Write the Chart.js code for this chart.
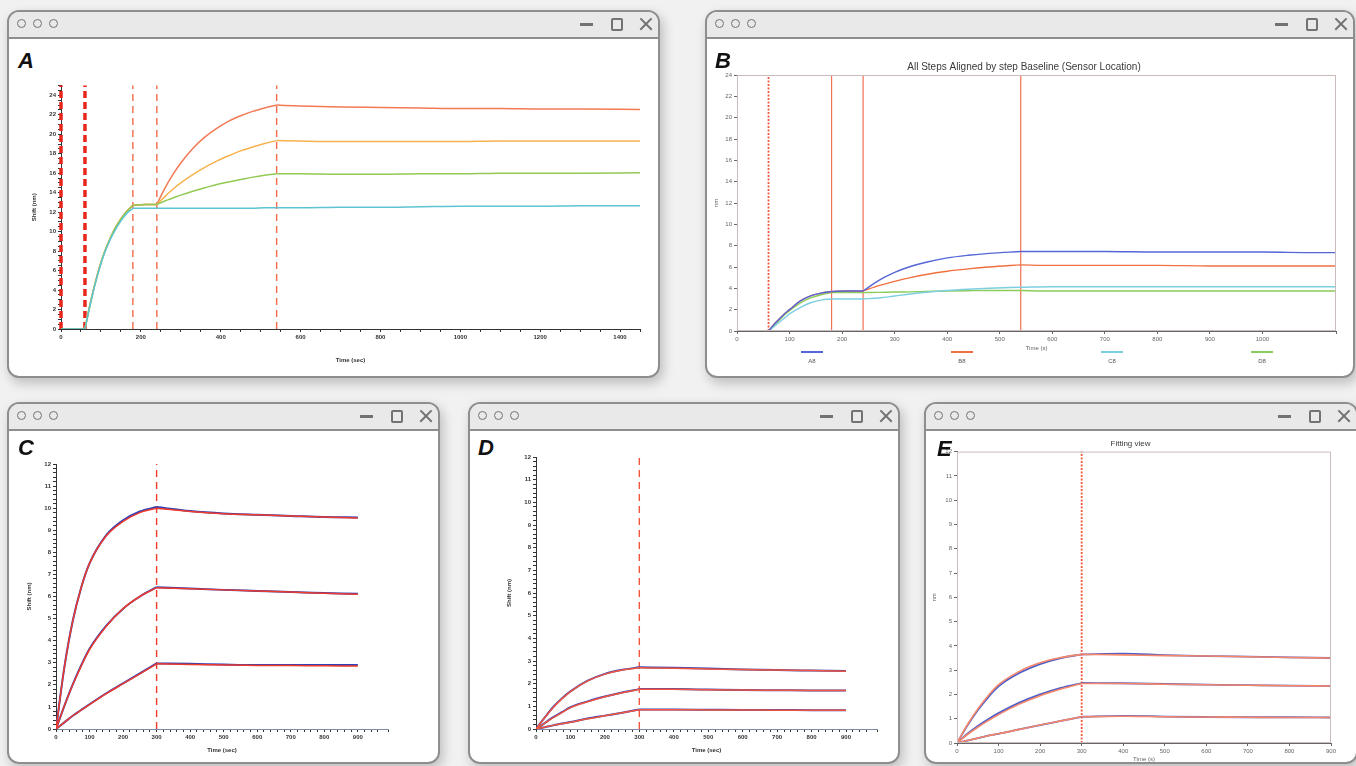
<!DOCTYPE html>
<html>
<head>
<meta charset="utf-8">
<script src="https://cdn.jsdelivr.net/npm/chart.js@4.4.1/dist/chart.umd.min.js"></script>
<style>
body { margin:0; width:1356px; height:766px; overflow:hidden; background:#f1f1f1; position:relative; font-family:"Liberation Sans", Arial, sans-serif; }
.win { position:absolute; background:#fff; border:2.5px solid #8e8e8e; border-radius:12px; box-shadow:3px 5px 12px rgba(0,0,0,0.22); overflow:hidden; box-sizing:border-box; }
.bar { position:absolute; left:0; right:0; top:0; height:25px; background:#e9e9ea; border-bottom:2.5px solid #8e8e8e; }
.dot { position:absolute; top:7px; width:7px; height:7px; border:1.8px solid #727272; border-radius:50%; }
.min { position:absolute; top:11.3px; right:65px; width:13px; height:2.6px; background:#727272; }
.max { position:absolute; top:5.5px; right:35.5px; width:8px; height:9px; border:2.2px solid #727272; border-radius:2px; }
.xl { position:absolute; top:11.3px; right:4.5px; width:16px; height:2.2px; background:#727272; }
.letter { position:absolute; font:italic bold 22px/22px "Liberation Sans", Arial, sans-serif; color:#111; z-index:3; }
canvas { position:absolute; z-index:2; }
#legendB { position:absolute; left:737px; top:351px; width:600px; display:flex; justify-content:space-around; z-index:2; }
#legendB div { display:flex; flex-direction:column; align-items:center; width:60px; font-size:6px; color:#555; }
#legendB span.sw { width:22px; height:1.5px; margin-bottom:5px; }
</style>
</head>
<body>
<canvas id="chartA" width="620" height="285" style="left:30px;top:80px"></canvas>
<canvas id="chartB" width="636" height="294" style="left:712px;top:59px"></canvas>
<canvas id="chartC" width="380" height="300" style="left:25px;top:455px"></canvas>
<canvas id="chartD" width="385" height="307" style="left:505px;top:448px"></canvas>
<canvas id="chartE" width="415" height="327" style="left:930px;top:437px"></canvas>
<div id="legendB"></div>
<script>
// ---------- panel A: four sensors, time in sec, shift in nm ----------
let timeA = [0, 60, 70, 80, 90, 100, 110, 120, 135, 150, 165, 180, 210, 240, 260, 280, 300, 330, 360, 390, 420, 450, 480, 510, 540, 600, 700, 800, 900, 1000, 1100, 1200, 1300, 1450];
let redA = [0, 0, 2.0, 3.8, 5.4, 6.8, 8.0, 9.0, 10.3, 11.3, 12.1, 12.7, 12.8, 12.8, 14.45, 15.85, 17.05, 18.55, 19.7, 20.6, 21.35, 21.9, 22.35, 22.7, 23.0, 22.9, 22.8, 22.75, 22.7, 22.65, 22.65, 22.6, 22.6, 22.55];
let orangeA = [0, 0, 2.0, 3.8, 5.4, 6.8, 8.0, 9.0, 10.3, 11.3, 12.1, 12.7, 12.8, 12.8, 13.6, 14.35, 15.0, 15.85, 16.6, 17.25, 17.8, 18.3, 18.7, 19.05, 19.35, 19.3, 19.25, 19.25, 19.25, 19.25, 19.3, 19.3, 19.3, 19.3];
let greenA = [0, 0, 2.0, 3.8, 5.4, 6.8, 8.0, 9.0, 10.3, 11.3, 12.1, 12.7, 12.8, 12.8, 13.15, 13.45, 13.75, 14.15, 14.5, 14.85, 15.1, 15.35, 15.6, 15.8, 15.95, 15.95, 15.9, 15.9, 15.95, 15.95, 16.0, 16.0, 16.0, 16.05];
let cyanA = [0, 0, 1.9, 3.7, 5.3, 6.7, 7.9, 8.9, 10.1, 11.1, 11.9, 12.4, 12.4, 12.4, 12.4, 12.4, 12.4, 12.4, 12.4, 12.4, 12.4, 12.4, 12.4, 12.45, 12.45, 12.45, 12.5, 12.5, 12.55, 12.6, 12.6, 12.6, 12.65, 12.65];
let stepsA = [0, 60, 180, 240, 540];
let endA = 1450;

// ---------- panel B: aligned steps ----------
let timeB = [0, 60, 70, 80, 90, 100, 120, 140, 160, 180, 210, 240, 270, 300, 330, 360, 400, 440, 480, 540, 600, 700, 800, 900, 1000, 1100, 1140];
let namesB = ["A8", "B8", "C8", "D8"];
let a8 = [0, 0, 0.6, 1.1, 1.6, 2.0, 2.8, 3.3, 3.55, 3.7, 3.75, 3.75, 4.75, 5.5, 6.05, 6.45, 6.85, 7.1, 7.28, 7.45, 7.45, 7.45, 7.4, 7.4, 7.4, 7.35, 7.35];
let b8 = [0, 0, 0.6, 1.1, 1.6, 2.0, 2.8, 3.3, 3.55, 3.7, 3.75, 3.75, 4.25, 4.65, 5.0, 5.3, 5.6, 5.82, 6.0, 6.2, 6.15, 6.15, 6.15, 6.1, 6.1, 6.1, 6.1];
let c8 = [0, 0, 0.4, 0.8, 1.2, 1.6, 2.2, 2.65, 2.9, 3.0, 3.0, 3.0, 3.1, 3.28, 3.47, 3.63, 3.8, 3.92, 4.01, 4.1, 4.15, 4.15, 4.15, 4.15, 4.15, 4.15, 4.15];
let d8 = [0, 0, 0.5, 1.0, 1.5, 1.9, 2.6, 3.1, 3.4, 3.6, 3.6, 3.6, 3.62, 3.65, 3.67, 3.7, 3.75, 3.78, 3.8, 3.8, 3.75, 3.75, 3.75, 3.75, 3.75, 3.75, 3.75];
let stepsB = [60, 180, 240, 540];
let endB = 1140;

// ---------- panels C, D, E: data (blue) and fit (red) ----------
let timeFit = [0, 25, 50, 75, 100, 150, 200, 250, 300, 400, 500, 600, 700, 800, 900];
let stepFit = 300;

let cFitHigh = [0, 2.8, 4.9, 6.4, 7.5, 8.75, 9.4, 9.8, 10.0, 9.85, 9.75, 9.7, 9.65, 9.6, 9.55];
let cDataHigh = [0, 2.8, 4.9, 6.4, 7.5, 8.78, 9.45, 9.85, 10.05, 9.87, 9.76, 9.7, 9.65, 9.6, 9.58];
let cFitMid = [0, 1.05, 2.0, 2.85, 3.6, 4.65, 5.45, 6.0, 6.4, 6.35, 6.3, 6.25, 6.2, 6.15, 6.1];
let cDataMid = [0, 1.05, 2.02, 2.88, 3.63, 4.68, 5.45, 6.0, 6.42, 6.36, 6.3, 6.25, 6.2, 6.16, 6.12];
let cFitLow = [0, 0.3, 0.6, 0.85, 1.1, 1.6, 2.05, 2.5, 2.95, 2.92, 2.9, 2.88, 2.87, 2.86, 2.85];
let cDataLow = [0, 0.3, 0.6, 0.86, 1.12, 1.62, 2.07, 2.52, 2.97, 2.95, 2.92, 2.9, 2.9, 2.9, 2.9];

let dFitHigh = [0, 0.5, 0.95, 1.33, 1.65, 2.12, 2.42, 2.6, 2.7, 2.68, 2.65, 2.62, 2.6, 2.58, 2.55];
let dDataHigh = [0, 0.5, 0.97, 1.35, 1.66, 2.13, 2.43, 2.61, 2.72, 2.7, 2.67, 2.63, 2.6, 2.58, 2.56];
let dFitMid = [0, 0.25, 0.5, 0.72, 0.94, 1.2, 1.42, 1.6, 1.75, 1.75, 1.73, 1.72, 1.71, 1.7, 1.7];
let dDataMid = [0, 0.26, 0.52, 0.74, 0.96, 1.22, 1.43, 1.61, 1.76, 1.76, 1.74, 1.72, 1.71, 1.7, 1.7];
let dFitLow = [0, 0.08, 0.16, 0.23, 0.3, 0.45, 0.58, 0.72, 0.85, 0.85, 0.84, 0.84, 0.83, 0.83, 0.83];
let dDataLow = [0, 0.08, 0.16, 0.24, 0.31, 0.46, 0.59, 0.72, 0.86, 0.86, 0.85, 0.84, 0.84, 0.83, 0.83];

let eFitHigh = [0, 0.75, 1.4, 1.95, 2.4, 2.95, 3.3, 3.52, 3.65, 3.63, 3.6, 3.58, 3.55, 3.52, 3.5];
let eDataHigh = [0, 0.72, 1.35, 1.88, 2.33, 2.88, 3.25, 3.5, 3.65, 3.68, 3.62, 3.58, 3.56, 3.53, 3.5];
let eFitMid = [0, 0.35, 0.65, 0.92, 1.17, 1.6, 1.95, 2.22, 2.45, 2.45, 2.42, 2.4, 2.38, 2.36, 2.35];
let eDataMid = [0, 0.38, 0.7, 0.98, 1.23, 1.66, 2.0, 2.27, 2.47, 2.46, 2.43, 2.4, 2.38, 2.36, 2.35];
let eFitLow = [0, 0.1, 0.2, 0.3, 0.38, 0.56, 0.74, 0.91, 1.08, 1.1, 1.08, 1.07, 1.06, 1.05, 1.05];
let eDataLow = [0, 0.1, 0.2, 0.3, 0.38, 0.56, 0.74, 0.91, 1.08, 1.12, 1.09, 1.07, 1.06, 1.06, 1.05];

Chart.defaults.font.family = '"Liberation Sans", Arial, sans-serif';
Chart.defaults.animation = false;

// window frames

function makeWindow(left, top, width, height, letter, lx, ly) {
    let w = document.createElement("div");
    w.className = "win";
    w.style.cssText = "left:" + left + "px;top:" + top + "px;width:" + width + "px;height:" + height + "px";
    w.innerHTML = '<div class="bar">' +
        '<div class="dot" style="left:7.5px"></div><div class="dot" style="left:23.5px"></div><div class="dot" style="left:39.5px"></div>' +
        '<div class="min"></div><div class="max"></div>' +
        '<div class="xl" style="transform:rotate(45deg)"></div><div class="xl" style="transform:rotate(-45deg)"></div></div>';
    document.body.insertBefore(w, document.body.firstChild);
    let l = document.createElement("div");
    l.className = "letter";
    l.innerText = letter;
    l.style.left = lx + "px";
    l.style.top = ly + "px";
    document.body.appendChild(l);
}

makeWindow(7, 10, 653, 368, "A", 18, 50);
makeWindow(705, 10, 650, 368, "B", 715, 50);
makeWindow(7, 402, 433, 362, "C", 18, 437);
makeWindow(468, 402, 432, 362, "D", 478, 437);
makeWindow(924, 402, 434, 362, "E", 937, 438);

// helpers

function points(xs, ys) {
    return xs.map((x, i) => ({x: x, y: ys[i]}));
}

// one dataset per step, so the kinks between steps stay sharp
function phases(label, xs, ys, bounds, color, width) {
    let all = points(xs, ys);
    let out = [];
    for (let p = 0; p < bounds.length - 1; p++) {
        out.push({
            label: label,
            data: all.filter(pt => pt.x >= bounds[p] && pt.x <= bounds[p + 1]),
            borderColor: color,
            borderWidth: width || 1.5,
            pointRadius: 0,
            cubicInterpolationMode: "monotone",
            fill: false
        });
    }
    return out;
}

function vline(x, top, color, width, dash) {
    return {
        label: "step",
        data: [{x: x, y: 0}, {x: x, y: top}],
        borderColor: color,
        borderWidth: width,
        borderDash: dash,
        pointRadius: 0,
        clip: false,
        fill: false
    };
}

function axis(o) {
    return {
        type: "linear",
        min: o.min,
        max: o.max,
        afterFit: o.fit,
        ticks: {
            stepSize: o.step,
            autoSkip: false,
            maxRotation: 0,
            padding: 2,
            color: o.color,
            font: {size: o.size, weight: o.weight || "bold"},
            callback: v => {
                let r = v / o.every;
                return Math.abs(r - Math.round(r)) < 1e-6 ? String(Math.round(v)) : "";
            }
        },
        grid: {drawOnChartArea: false, tickLength: o.tick || 3, color: o.color},
        border: {color: o.axisColor || o.color, width: 1},
        title: {display: true, text: o.title, color: o.color, font: {size: o.size, weight: o.weight || "bold"}, padding: 1}
    };
}

let framePlugin = {
    id: "frame",
    afterDraw(chart, args, opts) {
        let a = chart.chartArea;
        let ctx = chart.ctx;
        ctx.save();
        ctx.strokeStyle = opts.color;
        ctx.lineWidth = 1;
        ctx.strokeRect(a.left + 0.5, a.top + 0.5, a.width - 1, a.height - 1);
        ctx.restore();
    }
};

function baseOptions(x, y, padding) {
    return {
        responsive: false,
        devicePixelRatio: 1,
        layout: {padding: padding},
        plugins: {legend: {display: false}, tooltip: {enabled: false}},
        scales: {x: x, y: y}
    };
}

// panel A

let boundsA = stepsA.concat([endA]);
let datasetsA = [].concat(
    phases("cyan", timeA, cyanA, boundsA, "#5ec4d3"),
    phases("green", timeA, greenA, boundsA, "#93c953"),
    phases("orange", timeA, orangeA, boundsA, "#f7b24e"),
    phases("red", timeA, redA, boundsA, "#f27a55")
);
stepsA.forEach((s, i) => {
    if (i < 2) datasetsA.push(vline(s, 25, "#e8261c", 3.5, [7, 4]));
    else datasetsA.push(vline(s, 25, "#f36a4a", 1.4, [7, 5]));
});
new Chart(document.getElementById("chartA"), {
    type: "line",
    data: {datasets: datasetsA},
    options: baseOptions(
        axis({min: 0, max: endA, step: 50, every: 200, title: "Time (sec)", color: "#333", size: 6, fit: s => { s.height = 36; }}),
        axis({min: 0, max: 25, step: 0.5, every: 2, title: "Shift (nm)", color: "#333", size: 6, fit: s => { s.width = 31; }}),
        {left: 0, right: 10, top: 5, bottom: 0}
    )
});

// panel B

let colorsB = ["#5566d6", "#f07040", "#7ccfe0", "#8ccc5a"];
let seriesB = [a8, b8, c8, d8];
let boundsB = [0].concat(stepsB, [endB]);
let datasetsB = [];
seriesB.forEach((s, i) => {
    datasetsB = datasetsB.concat(phases(namesB[i], timeB, s, boundsB, colorsB[i], 1.4));
});
stepsB.forEach((s, i) => {
    if (i == 0) datasetsB.push(vline(s, 24, "#f05a3c", 1.8, [2, 1.5]));
    else datasetsB.push(vline(s, 24, "#f37055", 1.2, []));
});
let optionsB = baseOptions(
    axis({min: 0, max: endB, step: 100, every: 100, title: "Time (s)", color: "#666", size: 6, weight: "normal", fit: s => { s.height = 22; }}),
    axis({min: 0, max: 24, step: 2, every: 2, title: "nm", color: "#666", size: 6, weight: "normal", fit: s => { s.width = 25; }}),
    {left: 0, right: 12, top: 0, bottom: 0}
);
optionsB.plugins.title = {display: true, text: "All Steps Aligned by step Baseline (Sensor Location)", color: "#3a3a3a", font: {size: 10, weight: "normal"}, padding: {top: 2, bottom: 2}};
optionsB.plugins.frame = {color: "#cbbcbc"};
new Chart(document.getElementById("chartB"), {
    type: "line",
    data: {datasets: datasetsB},
    options: optionsB,
    plugins: [framePlugin]
});

let legendB = document.getElementById("legendB");
namesB.forEach((n, i) => {
    let item = document.createElement("div");
    item.innerHTML = '<span class="sw" style="background:' + colorsB[i] + '"></span><span>' + n + '</span>';
    legendB.appendChild(item);
});

// panels C and D

let boundsFit = [0, stepFit, 900];

function fitChart(id, fits, datas, fitColor, dataColor, fitX, fitY, padding) {
    let ds = [];
    fits.forEach(f => { ds = ds.concat(phases("fit", timeFit, f, boundsFit, fitColor, 1.5)); });
    datas.forEach(d => { ds = ds.concat(phases("data", timeFit, d, boundsFit, dataColor, 2)); });
    ds.push(vline(stepFit, 12, fitColor, 1.4, [7, 5]));
    return new Chart(document.getElementById(id), {
        type: "line",
        data: {datasets: ds},
        options: baseOptions(
            axis({min: 0, max: 990, step: 20, every: 100, title: "Time (sec)", color: "#333", axisColor: "#7d8aa8", size: 6, fit: fitX}),
            axis({min: 0, max: 12, step: 0.2, every: 1, title: "Shift (nm)", color: "#333", size: 6, fit: fitY}),
            padding
        )
    });
}

fitChart("chartC", [cFitHigh, cFitMid, cFitLow], [cDataHigh, cDataMid, cDataLow], "#ee3b2b", "#3040b8",
    s => { s.height = 26; }, s => { s.width = 31; }, {left: 0, right: 17, top: 9, bottom: 0});
fitChart("chartD", [dFitHigh, dFitMid, dFitLow], [dDataHigh, dDataMid, dDataLow], "#f2553d", "#3845b8",
    s => { s.height = 26; }, s => { s.width = 31; }, {left: 0, right: 13, top: 9, bottom: 0});

// panel E

let datasetsE = [].concat(
    phases("fit", timeFit, eFitHigh, boundsFit, "#f5866a", 1.6),
    phases("fit", timeFit, eFitMid, boundsFit, "#f5866a", 1.6),
    phases("fit", timeFit, eFitLow, boundsFit, "#f5866a", 1.6),
    phases("data", timeFit, eDataHigh, boundsFit, "#4d5ec8", 1.8),
    phases("data", timeFit, eDataMid, boundsFit, "#4d5ec8", 1.8),
    phases("data", timeFit, eDataLow, boundsFit, "#4d5ec8", 1.8),
    [vline(stepFit, 12, "#f05a3c", 1.8, [2, 1.5])]
);
let optionsE = baseOptions(
    axis({min: 0, max: 900, step: 100, every: 100, title: "Time (s)", color: "#666", size: 6, weight: "normal", fit: s => { s.height = 21; }}),
    axis({min: 0, max: 12, step: 1, every: 1, title: "nm", color: "#666", size: 6, weight: "normal", fit: s => { s.width = 27; }}),
    {left: 0, right: 14, top: 0, bottom: 0}
);
optionsE.plugins.title = {display: true, text: "Fitting view", color: "#3a3a3a", font: {size: 8, weight: "normal"}, padding: {top: 2, bottom: 3}};
optionsE.plugins.frame = {color: "#cbbcbc"};
new Chart(document.getElementById("chartE"), {
    type: "line",
    data: {datasets: datasetsE},
    options: optionsE,
    plugins: [framePlugin]
});
</script>
</body>
</html>
